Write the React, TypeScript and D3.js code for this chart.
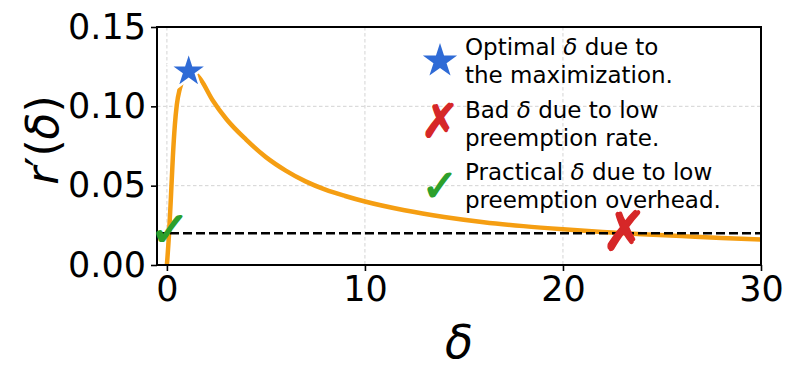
import React, { useRef, useEffect } from "react";
import * as d3 from "d3";

// curve r'(delta)
const deltas = [0, 0.1, 0.2, 0.3, 0.4, 0.5, 0.65, 0.85, 1.1, 1.4, 1.7, 2.3, 3, 4, 5, 6, 7, 8, 9, 10, 12, 14, 16, 18, 20, 22, 24, 26, 28, 30];
const rates = [0, 0.018, 0.042, 0.068, 0.088, 0.101, 0.111, 0.118, 0.122, 0.121, 0.117, 0.104, 0.092, 0.079, 0.068, 0.0595, 0.0527, 0.0475, 0.0435, 0.04, 0.0345, 0.0303, 0.027, 0.0245, 0.0225, 0.0208, 0.0194, 0.0182, 0.017, 0.016];

const threshold = 0.02;
const xTicks = [0, 10, 20, 30];
const yTicks = [0, 0.05, 0.1, 0.15];

const optimalDelta = [1.1, 0.122];
const badDelta = [23.1, 0.021];
const practicalDelta = [0.15, 0.0225];

const legendLines = [
  ["Optimal δ due to", "the maximization."],
  ["Bad δ due to low", "preemption rate."],
  ["Practical δ due to low", "preemption overhead."],
];

const W = 797;
const H = 379;

export default function App() {
  const svgRef = useRef<SVGSVGElement>(null);

  useEffect(() => {
    const svg = d3.select(svgRef.current);
    svg.selectAll("*").remove();

    const left = 157, right = 761, top = 27, bottom = 265;
    const font = "DejaVu Sans, sans-serif";

    const x = d3.scaleLinear().domain([-0.5, 30]).range([left, right]);
    const y = d3.scaleLinear().domain([0, 0.15]).range([bottom, top]);

    svg.append("defs").append("clipPath").attr("id", "plot-clip")
      .append("rect").attr("x", left).attr("y", top)
      .attr("width", right - left).attr("height", bottom - top);

    // grid
    const grid = svg.append("g").attr("stroke", "#cfcfcf").attr("stroke-width", 0.9)
      .attr("stroke-dasharray", "3.5,2.5");
    xTicks.forEach((t) => {
      grid.append("line").attr("x1", x(t)).attr("x2", x(t)).attr("y1", top).attr("y2", bottom);
    });
    yTicks.forEach((t) => {
      grid.append("line").attr("x1", left).attr("x2", right).attr("y1", y(t)).attr("y2", y(t));
    });

    const data = deltas.map((d, i) => ({ d, v: rates[i] }));
    const line = d3.line<{ d: number; v: number }>()
      .x((p) => x(p.d)).y((p) => y(p.v))
      .curve(d3.curveMonotoneX);

    svg.append("path").datum(data)
      .attr("clip-path", "url(#plot-clip)")
      .attr("fill", "none").attr("stroke", "#f59e12").attr("stroke-width", 4.5)
      .attr("d", line);

    // threshold
    svg.append("line")
      .attr("x1", left).attr("x2", right)
      .attr("y1", y(threshold)).attr("y2", y(threshold))
      .attr("stroke", "#000").attr("stroke-width", 2.6).attr("stroke-dasharray", "9,4");

    // axes
    const xAxis = svg.append("g").attr("transform", `translate(0,${bottom})`)
      .call(d3.axisBottom(x).tickValues(xTicks).tickSize(6).tickPadding(5).tickFormat(d3.format("d")));
    const yAxis = svg.append("g").attr("transform", `translate(${left},0)`)
      .call(d3.axisLeft(y).tickValues(yTicks).tickSize(6).tickPadding(5).tickFormat(d3.format(".2f")));
    [xAxis, yAxis].forEach((g) => {
      g.select(".domain").remove();
      g.selectAll("line").attr("stroke", "#000").attr("stroke-width", 1.6);
      g.selectAll("text").attr("fill", "#000").style("font-family", font).style("font-size", "35px");
    });

    svg.append("rect").attr("x", left).attr("y", top)
      .attr("width", right - left).attr("height", bottom - top)
      .attr("fill", "none").attr("stroke", "#000").attr("stroke-width", 2);

    const glyph = (g: any, cx: number, cy: number, ch: string, color: string, size: number) =>
      g.append("text")
        .attr("x", cx).attr("y", cy)
        .attr("text-anchor", "middle").attr("dominant-baseline", "central")
        .attr("fill", color).attr("stroke", color).attr("stroke-width", 1.4)
        .attr("stroke-linejoin", "round")
        .style("font-family", font).style("font-size", `${size}px`)
        .text(ch);

    // markers on the curve
    const star = d3.symbol().type(d3.symbolStar);
    svg.append("path")
      .attr("d", star.size((20 * 20) / 0.8908)())
      .attr("transform", `translate(${x(optimalDelta[0])},${y(optimalDelta[1])})`)
      .attr("fill", "#2f6bd6").attr("stroke", "#fff").attr("stroke-width", 2.5);

    glyph(svg, x(badDelta[0]), y(badDelta[1]), "✗", "#d62728", 54);
    glyph(svg, x(practicalDelta[0]), y(practicalDelta[1]), "✓", "#2ca02c", 48);

    // legend
    const legend = svg.append("g");
    const rowY = [55, 118, 180];
    legendLines.forEach((lines, i) => {
      lines.forEach((txt, j) => {
        const t = legend.append("text")
          .attr("x", 465).attr("y", rowY[i] + j * 28)
          .attr("fill", "#000").style("font-family", font).style("font-size", "23px");
        const parts = txt.split("δ");
        t.append("tspan").text(parts[0]);
        if (parts.length > 1) {
          t.append("tspan").style("font-style", "italic").text("δ");
          t.append("tspan").text(parts[1]);
        }
      });
    });
    legend.append("path")
      .attr("d", star.size((18 * 18) / 0.8908)())
      .attr("transform", "translate(440,61)")
      .attr("fill", "#2f6bd6");
    glyph(legend, 440, 121, "✗", "#d62728", 46);
    glyph(legend, 440, 185, "✓", "#2ca02c", 44);

    // axis labels
    svg.append("text")
      .attr("x", (left + right) / 2).attr("y", 358)
      .attr("text-anchor", "middle").attr("fill", "#000")
      .style("font-family", font).style("font-size", "46px").style("font-style", "italic")
      .text("δ");

    const yl = svg.append("text")
      .attr("transform", `translate(58,${(top + bottom) / 2 - 6}) rotate(-90)`)
      .attr("text-anchor", "middle").attr("fill", "#000")
      .style("font-family", font).style("font-size", "44px");
    yl.append("tspan").style("font-style", "italic").text("r");
    yl.append("tspan").text("′(");
    yl.append("tspan").style("font-style", "italic").text("δ");
    yl.append("tspan").text(")");
  }, []);

  return (
    <svg
      ref={svgRef}
      width={W}
      height={H}
      style={{ position: "absolute", left: 0, top: 0, background: "#fff" }}
    />
  );
}
